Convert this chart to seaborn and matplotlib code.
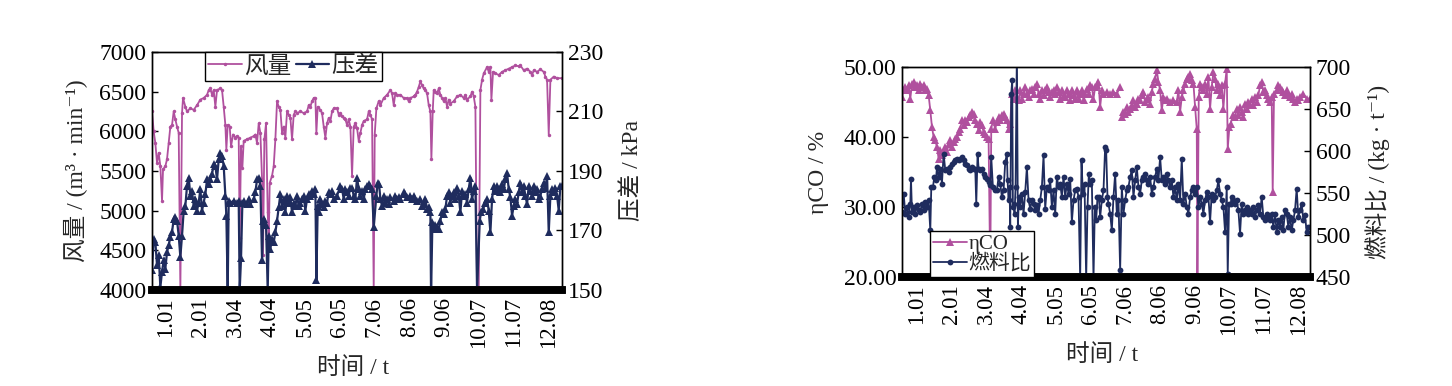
import numpy as np
import pandas as pd
import matplotlib
matplotlib.use("Agg")
import matplotlib.pyplot as plt
import seaborn as sns
from matplotlib.ticker import FormatStrFormatter
from matplotlib.lines import Line2D

sns.set_theme(style="white")
plt.rcParams['font.family'] = ['Liberation Serif', 'Noto Sans CJK SC', 'DejaVu Serif']
plt.rcParams['axes.unicode_minus'] = False

date_labels = ["1.01", "2.01", "3.04", "4.04", "5.05", "6.05",
               "7.06", "8.06", "9.06", "10.07", "11.07", "12.08"]

# ---------------- left panel: 风量 (m3/min) ----------------
wind_t = [0, 5, 10, 15, 20, 25, 30, 33, 40, 45, 50, 55, 60, 65, 70, 75, 80, 85, 90, 93,
          100, 105, 115, 125, 135, 145, 155, 165, 170, 175, 180, 185, 190, 195, 205, 210, 215, 220, 223, 227,
          233, 237, 243, 250, 255, 260, 263, 267, 271, 275, 285, 295, 305, 310, 315, 320, 325, 330, 333, 337,
          342, 347, 350, 353, 360, 365, 370, 375, 380, 385, 390, 395, 400, 405, 410, 415, 420, 425, 430, 435,
          445, 455, 465, 470, 475, 480, 485, 490, 493, 497, 505, 510, 515, 520, 525, 530, 535, 540, 545, 555,
          560, 565, 570, 575, 580, 585, 590, 595, 600, 605, 610, 615, 620, 625, 630, 635, 645, 650, 655, 660,
          665, 668, 673, 680, 685, 695, 705, 715, 720, 725, 730, 735, 745, 755, 765, 770, 775, 785, 790, 795,
          800, 805, 810, 815, 820, 825, 830, 835, 838, 842, 845, 850, 855, 860, 865, 870, 875, 880, 885, 890,
          895, 905, 915, 925, 935, 940, 945, 955, 960, 965, 970, 975, 980, 985, 990, 995, 1005, 1010, 1015, 1018,
          1023, 1030, 1040, 1050, 1060, 1070, 1080, 1090, 1100, 1105, 1115, 1125, 1135, 1140, 1145, 1155, 1165, 1175, 1180, 1185,
          1190, 1195, 1205, 1215, 1230]
wind_v = [6250, 6000, 5850, 5600, 5730, 5560, 5125, 5520, 5560, 5650, 5850, 6060, 6080, 6250, 6150, 6060, 5980, 4000, 6230, 6420,
          6310, 6250, 6290, 6270, 6330, 6400, 6420, 6460, 6520, 6540, 6460, 6520, 6310, 6520, 6540, 6520, 6310, 6080, 5770, 6080,
          6060, 5810, 5960, 5920, 5940, 5920, 4650, 5810, 5540, 5880, 5900, 5920, 5940, 5960, 5850, 6100, 5980, 5400, 4440, 5900,
          6100, 4980, 4600, 5350, 5440, 5560, 5900, 6380, 6310, 6270, 5980, 6060, 5920, 6250, 6210, 6170, 5900, 6210, 6250, 6230,
          6250, 6230, 6250, 6330, 6310, 6380, 6420, 6420, 5980, 6310, 6270, 6230, 6060, 5920, 6100, 6170, 6130, 6250, 6290, 6290,
          6210, 6230, 6190, 6170, 6150, 6080, 6150, 6060, 5440, 6060, 6100, 6040, 5880, 5980, 6080, 6130, 6150, 6250, 6210, 6150,
          4000, 5960, 6290, 6380, 6330, 6420, 6460, 6520, 6480, 6330, 6480, 6460, 6460, 6420, 6420, 6380, 6420, 6440, 6460, 6500,
          6560, 6630, 6580, 6540, 6520, 6480, 6330, 6250, 5650, 6250, 6520, 6500, 6480, 6540, 6460, 6420, 6380, 6420, 6310, 6400,
          6350, 6380, 6440, 6460, 6420, 6460, 6400, 6440, 6500, 6440, 6310, 4000, 4000, 6520, 6650, 6730, 6810, 6750, 6810, 6400,
          6750, 6730, 6710, 6750, 6770, 6790, 6810, 6830, 6820, 6830, 6770, 6790, 6750, 6710, 6770, 6750, 6780, 6750, 6690, 6650,
          5960, 6650, 6690, 6670, 6670]

# ---------------- left panel: 压差 (kPa) ----------------
dp_t = [0, 5, 10, 15, 20, 25, 30, 35, 40, 45, 50, 55, 60, 65, 70, 75, 80, 85, 90, 95,
        100, 105, 110, 115, 120, 125, 130, 135, 140, 145, 150, 155, 160, 165, 170, 175, 180, 185, 190, 195,
        200, 205, 210, 215, 220, 223, 227, 230, 235, 245, 255, 260, 263, 267, 271, 275, 285, 290, 295, 305,
        310, 315, 320, 325, 330, 333, 337, 342, 347, 350, 355, 360, 365, 370, 375, 380, 385, 390, 395, 400,
        405, 410, 415, 420, 425, 430, 435, 440, 445, 450, 455, 460, 465, 470, 475, 480, 485, 490, 493, 497,
        500, 505, 510, 515, 520, 525, 530, 535, 540, 545, 555, 565, 570, 575, 580, 585, 590, 595, 600, 605,
        610, 615, 620, 625, 630, 635, 640, 645, 650, 655, 660, 665, 673, 677, 681, 685, 690, 695, 700, 705,
        710, 715, 725, 730, 735, 740, 745, 755, 760, 765, 775, 780, 785, 790, 795, 805, 810, 815, 820, 825,
        830, 835, 837, 841, 845, 850, 855, 860, 865, 870, 875, 880, 885, 890, 895, 900, 905, 910, 915, 920,
        925, 930, 935, 940, 945, 950, 955, 960, 965, 970, 975, 983, 987, 993, 1000, 1005, 1010, 1015, 1020, 1025,
        1030, 1035, 1040, 1045, 1050, 1055, 1060, 1065, 1070, 1075, 1080, 1085, 1090, 1095, 1100, 1105, 1110, 1115, 1120, 1125,
        1130, 1135, 1140, 1145, 1150, 1155, 1160, 1165, 1170, 1175, 1180, 1185, 1190, 1195, 1200, 1205, 1210, 1215, 1220, 1225,
        1230]
dp_v = [156.7, 167.2, 166.1, 158.3, 161.7, 151.0, 156.1, 160.0, 157.2, 162.8, 165.0, 167.8, 169.4, 173.9, 174.4, 173.3, 168.3, 161.1, 168.3, 176.7,
        178.3, 185.0, 187.8, 181.7, 183.3, 178.3, 180.6, 176.7, 179.4, 183.9, 176.7, 179.4, 182.2, 187.2, 185.6, 187.2, 188.9, 192.2, 191.7, 187.2,
        193.9, 196.1, 195.0, 191.7, 181.7, 175.0, 150.0, 180.0, 179.4, 180.0, 179.4, 180.0, 150.0, 160.6, 179.4, 180.0, 178.9, 180.6, 178.9, 180.6,
        182.8, 187.2, 187.8, 185.0, 160.0, 173.3, 173.9, 171.7, 150.0, 168.3, 163.9, 167.2, 166.1, 169.4, 173.3, 177.8, 182.2, 178.3, 180.6, 176.1,
        181.7, 179.4, 181.1, 176.1, 179.4, 178.3, 181.7, 178.3, 179.4, 180.6, 181.7, 176.7, 180.6, 182.2, 181.7, 183.3, 182.2, 183.9, 153.3, 178.3,
        176.1, 180.6, 178.9, 177.8, 180.0, 179.4, 182.8, 182.2, 183.3, 180.6, 181.7, 185.0, 183.9, 180.6, 183.9, 182.8, 181.7, 184.4, 184.4, 181.7,
        180.6, 187.8, 183.9, 181.7, 183.3, 180.6, 183.9, 185.0, 185.6, 185.0, 183.9, 171.1, 181.7, 186.1, 185.6, 180.6, 178.3, 181.7, 179.4, 180.6,
        178.9, 181.1, 180.0, 181.7, 180.6, 181.1, 180.6, 182.8, 182.2, 181.1, 181.7, 180.6, 181.7, 180.6, 180.0, 180.6, 178.3, 178.9, 180.6, 177.2,
        177.8, 176.1, 148.0, 172.8, 170.6, 171.7, 171.1, 170.6, 173.3, 176.1, 175.6, 177.2, 181.7, 182.8, 179.4, 181.7, 182.8, 180.6, 184.4, 181.7,
        176.1, 183.3, 181.7, 182.2, 179.4, 183.9, 187.8, 180.6, 183.3, 185.0, 150.0, 173.3, 176.1, 177.2, 179.4, 180.6, 176.7, 169.4, 180.6, 185.0,
        183.3, 185.0, 183.9, 182.8, 185.6, 183.9, 187.2, 189.4, 183.9, 181.1, 175.0, 178.3, 180.6, 178.9, 182.8, 186.1, 182.8, 185.0, 181.7, 178.9,
        185.0, 183.3, 181.7, 185.0, 182.8, 183.9, 180.6, 181.7, 183.9, 186.1, 184.4, 188.3, 169.4, 181.7, 183.9, 182.8, 184.4, 181.7, 176.7, 185.0,
        185.0]

# ---------------- right panel: ηCO (%) ----------------
eta_t = [0, 5, 10, 15, 20, 25, 30, 35, 40, 45, 50, 55, 60, 65, 70, 75, 80, 85, 90, 95,
         100, 105, 110, 115, 120, 125, 130, 135, 140, 145, 150, 155, 160, 165, 170, 175, 180, 185, 190, 195,
         200, 205, 210, 215, 220, 225, 230, 235, 240, 245, 250, 255, 260, 265, 268, 273, 280, 285, 290, 295,
         300, 305, 310, 315, 320, 325, 330, 335, 340, 345, 350, 355, 360, 365, 370, 375, 380, 385, 390, 395,
         400, 405, 410, 415, 420, 425, 430, 435, 440, 445, 450, 455, 460, 465, 470, 475, 480, 485, 490, 495,
         500, 505, 510, 515, 520, 525, 530, 535, 540, 545, 550, 555, 560, 565, 570, 575, 580, 585, 590, 595,
         600, 605, 615, 625, 635, 645, 655,
         660, 665, 670, 675, 680, 685, 690, 695, 700, 705, 710, 715, 720, 725, 730, 735, 740, 745, 750, 755,
         760, 765, 770, 775, 780, 785, 790, 795, 805, 815, 825, 830, 835, 840, 845, 850, 855, 860, 865, 870,
         875, 880, 885, 887, 891, 895, 900, 905, 910, 915, 920, 925, 930, 935, 940, 945, 950, 955, 960, 965,
         970, 975, 978, 983, 987, 993, 1000, 1005, 1010, 1015, 1020, 1025, 1030, 1035, 1040, 1045, 1050, 1055, 1060, 1065,
         1070, 1075, 1080, 1085, 1090, 1095, 1100, 1105, 1110, 1113, 1117, 1125, 1130, 1135, 1140, 1145, 1150, 1155, 1160, 1165,
         1170, 1175, 1180, 1185, 1190, 1195, 1205, 1215, 1225]
eta_v = [45.71, 46.67, 47.14, 46.67, 47.38, 45.48, 47.62, 47.86, 47.14, 47.38, 46.67, 47.62, 47.14, 47.38, 46.67, 46.90, 45.95, 43.81, 41.43, 40.00,
         39.52, 38.57, 36.90, 38.10, 37.38, 37.86, 38.57, 37.86, 39.05, 39.52, 38.57, 39.29, 39.76, 40.00, 40.71, 41.19, 42.38, 41.67, 42.38, 42.14,
         42.86, 43.10, 43.57, 43.33, 42.38, 41.90, 40.95, 42.14, 41.67, 40.71, 40.48, 40.00, 39.76, 20.30, 41.19, 42.38, 41.19, 42.14, 42.86, 42.38,
         43.10, 43.33, 42.86, 42.38, 41.19, 41.90, 46.19, 45.48, 46.67, 45.71, 45.24, 46.67, 45.48, 46.19, 47.14, 46.19, 45.71, 46.67, 46.90, 46.19,
         47.14, 47.62, 46.19, 45.48, 46.67, 45.95, 46.67, 47.14, 46.43, 45.71, 46.43, 46.67, 46.19, 47.14, 46.43, 45.48, 46.67, 45.95, 45.71, 46.67,
         46.19, 45.24, 46.67, 45.95, 45.48, 46.67, 45.48, 46.19, 46.67, 45.24, 46.19, 46.90, 46.19, 47.38, 47.14, 45.48, 47.14, 47.38, 47.86, 44.29,
         46.67, 46.19, 46.43, 46.19, 46.43, 46.19, 47.14,
         42.86, 43.57, 43.33, 44.29, 43.57, 44.05, 44.52, 45.24, 44.29, 44.76, 45.48, 45.24, 45.95, 46.43, 45.00, 45.48, 45.71, 44.76, 46.43, 47.62,
         48.33, 49.52, 47.86, 46.67, 43.81, 45.71, 45.24, 45.48, 45.00, 45.24, 45.00, 46.67, 43.57, 45.71, 46.67, 47.62, 48.33, 48.57, 49.05, 48.10,
         47.62, 44.29, 41.19, 20.30, 45.71, 47.62, 47.14, 46.67, 47.62, 46.19, 48.57, 44.05, 47.14, 49.29, 48.33, 46.67, 47.62, 45.95, 47.38, 44.05,
         47.62, 49.76, 38.33, 41.43, 41.90, 43.10, 42.86, 44.05, 43.10, 44.29, 43.57, 42.86, 44.76, 44.05, 45.00, 44.52, 45.48, 44.52, 45.71, 45.00,
         45.95, 47.38, 47.86, 46.43, 46.67, 45.95, 45.48, 45.00, 45.71, 32.14, 46.19, 46.67, 47.38, 47.14, 46.67, 46.43, 45.95, 46.67, 46.19, 45.71,
         46.19, 45.48, 45.00, 45.48, 45.24, 45.71, 46.19, 45.48, 45.48]
# the ηCO record has a missing stretch between these two segments
eta_seg = [0] * 127 + [1] * (len(eta_t) - 127)

# ---------------- right panel: 燃料比 (kg/t) ----------------
fr_t = [0, 5, 10, 15, 20, 25, 27, 30, 35, 40, 45, 50, 55, 60, 65, 70, 75, 80, 85, 88,
        93, 97, 102, 105, 110, 115, 120, 125, 130, 135, 140, 145, 150, 155, 160, 165, 170, 175, 180, 185,
        190, 195, 200, 205, 210, 215, 220, 223, 227, 230, 235, 240, 245, 250, 255, 260, 265, 268, 273, 280,
        285, 290, 295, 300, 305, 310, 315, 317, 320, 323, 325, 328, 331, 333, 335, 338, 341, 345, 348, 351,
        355, 360, 365, 370, 375, 380, 385, 390, 395, 400, 405, 410, 415, 420, 425, 430, 435, 440, 445, 450,
        455, 460, 465, 470, 475, 480, 485, 490, 495, 500, 505, 510, 515, 520, 525, 530, 535, 539, 543, 548,
        553, 557, 561, 565, 570, 575, 579, 583, 587, 591, 595, 600, 605, 610, 613, 617, 620, 625, 630, 635,
        640, 645, 650, 655, 660, 665, 670, 675, 680, 685, 690, 695, 700, 705, 710, 715, 720, 725, 730, 735,
        740, 745, 750, 755, 760, 765, 770, 775, 780, 785, 790, 795, 800, 805, 810, 815, 820, 825, 830, 835,
        840, 845, 850, 855, 860, 865, 870, 875, 880, 885, 890, 895, 900, 905, 910, 915, 920, 925, 930, 935,
        940, 945, 950, 955, 960, 965, 970, 975, 978, 982, 987, 990, 995, 1000, 1005, 1010, 1015, 1020, 1025, 1030,
        1035, 1040, 1045, 1050, 1055, 1060, 1065, 1070, 1075, 1080, 1085, 1090, 1095, 1100, 1105, 1110, 1115, 1120, 1125, 1130,
        1135, 1140, 1145, 1150, 1155, 1160, 1165, 1170, 1175, 1180, 1185, 1190, 1195, 1200, 1205, 1210, 1215, 1220, 1225]
fr_v = [527.4, 549.2, 525.4, 533.3, 521.4, 537.3, 567.1, 527.4, 533.3, 525.4, 535.3, 529.4, 527.4, 537.3, 529.4, 539.3, 533.3, 541.3, 505.6, 557.1,
        557.1, 569.0, 565.1, 581.0, 569.0, 579.0, 561.1, 596.8, 577.0, 579.0, 575.0, 581.0, 584.9, 586.9, 588.9, 590.9, 588.9, 590.9, 592.9, 588.9,
        584.9, 582.9, 579.0, 577.0, 581.0, 579.0, 579.0, 537.3, 596.8, 579.0, 577.0, 579.0, 573.0, 569.0, 567.1, 563.1, 559.1, 592.9, 557.1, 553.2,
        553.2, 569.0, 561.1, 545.2, 553.2, 586.9, 596.8, 565.1, 541.3, 557.1, 509.5, 668.3, 684.1, 533.3, 537.3, 525.4, 557.1, 720.0, 509.5, 545.2,
        533.3, 549.2, 525.4, 551.2, 581.0, 541.3, 531.3, 541.3, 537.3, 529.4, 535.3, 525.4, 541.3, 557.1, 594.8, 531.3, 557.1, 553.2, 565.1, 533.3,
        553.2, 525.4, 569.0, 557.1, 561.1, 545.2, 569.0, 545.2, 561.1, 549.2, 567.1, 515.5, 541.3, 553.2, 555.2, 545.2, 448.0, 588.9, 549.2, 561.1,
        448.0, 533.3, 573.0, 561.1, 565.1, 448.0, 533.3, 517.5, 545.2, 545.2, 521.4, 541.3, 553.2, 604.8, 600.8, 545.2, 537.3, 525.4, 505.6, 545.2,
        573.0, 525.4, 541.3, 458.0, 557.1, 525.4, 541.3, 553.2, 557.1, 569.0, 577.0, 545.2, 565.1, 581.0, 557.1, 549.2, 565.1, 569.0, 573.0, 565.1,
        561.1, 569.0, 549.2, 557.1, 569.0, 579.0, 565.1, 592.9, 565.1, 569.0, 561.1, 573.0, 565.1, 557.1, 565.1, 545.2, 557.1, 541.3, 561.1, 541.3,
        590.9, 537.3, 549.2, 533.3, 525.4, 545.2, 553.2, 557.1, 549.2, 557.1, 533.3, 545.2, 537.3, 525.4, 541.3, 551.2, 545.2, 515.5, 549.2, 541.3,
        545.2, 553.2, 565.1, 549.2, 541.3, 533.3, 503.6, 557.1, 454.0, 537.3, 537.3, 545.2, 541.3, 537.3, 541.3, 529.4, 501.6, 537.3, 525.4, 529.4,
        533.3, 525.4, 529.4, 525.4, 533.3, 521.4, 529.4, 535.3, 525.4, 545.2, 521.4, 517.5, 525.4, 521.4, 517.5, 525.4, 509.5, 525.4, 503.6, 517.5,
        509.5, 521.4, 505.6, 529.4, 525.4, 509.5, 521.4, 505.6, 517.5, 529.4, 555.2, 521.4, 529.4, 537.3, 517.5, 523.4, 503.6, 509.5, 509.5]

MAGENTA = "#B0509E"
NAVY = "#1F2C5E"

fig = plt.figure(figsize=(14.52, 3.86), dpi=100)
fig.patch.set_facecolor("white")

ax1 = fig.add_axes([0.1047, 0.2487, 0.2824, 0.6166])
ax1b = ax1.twinx()
ax2 = fig.add_axes([0.6212, 0.2824, 0.281, 0.544])
ax2b = ax2.twinx()

# --- left panel ---
sns.lineplot(x=wind_t, y=wind_v, ax=ax1, color=MAGENTA, linewidth=1.3, marker="o",
             markersize=2.5, markeredgewidth=0, estimator=None, legend=False)
sns.lineplot(x=dp_t, y=dp_v, ax=ax1b, color=NAVY, linewidth=1.6, marker="^",
             markersize=5.5, markeredgewidth=0, estimator=None, legend=False)

# --- right panel ---
eta_df = pd.DataFrame({"t": eta_t, "v": eta_v, "seg": eta_seg})
sns.lineplot(data=eta_df, x="t", y="v", units="seg", ax=ax2, color=MAGENTA, linewidth=1.3,
             marker="^", markersize=5.5, markeredgewidth=0, estimator=None, legend=False)
sns.lineplot(x=fr_t, y=fr_v, ax=ax2b, color=NAVY, linewidth=1.3, marker="o",
             markersize=4.2, markeredgewidth=0, estimator=None, legend=False)

FS = 17
ax1.set_xlim(0, 1230)
ax1.set_ylim(4000, 7000)
ax1b.set_ylim(150, 230)
ax1.set_yticks(np.arange(4000, 7001, 500))
ax1b.set_yticks(np.arange(150, 231, 20))
ax1.set_xticks(np.linspace(40, 1190, len(date_labels)))
ax1.set_xticklabels(date_labels, rotation=90)

ax2.set_xlim(0, 1225)
ax2.set_ylim(20, 50)
ax2b.set_ylim(450, 700)
ax2.set_yticks([20, 30, 40, 50])
ax2.yaxis.set_major_formatter(FormatStrFormatter("%.2f"))
ax2b.set_yticks(np.arange(450, 701, 50))
ax2.set_xticks(np.linspace(45, 1190, len(date_labels)))
ax2.set_xticklabels(date_labels, rotation=90)

for a in (ax1, ax1b, ax2, ax2b):
    a.set_xlabel("")
    a.set_ylabel("")
    for s in a.spines.values():
        s.set_color("black")
        s.set_linewidth(1.0)
    a.spines["bottom"].set_linewidth(5.5)
    a.tick_params(axis="y", direction="in", length=4, width=1, colors="black",
                  labelsize=FS, pad=4)
    a.tick_params(axis="x", length=0, labelsize=FS - 0.5, pad=5, colors="black")

ax1.set_ylabel("风量 / (m³ · min⁻¹)", fontsize=FS)
ax1.yaxis.set_label_coords(-0.155, 0.5)
ax1b.set_ylabel("压差 / kPa", fontsize=FS)
ax1b.yaxis.set_label_coords(1.145, 0.5)
ax1.set_xlabel("时间 / t", fontsize=FS)
ax1.xaxis.set_label_coords(0.49, -0.28)

ax2.set_ylabel("ηCO / %", fontsize=FS)
ax2.yaxis.set_label_coords(-0.18, 0.5)
ax2b.set_ylabel("燃料比 / (kg · t⁻¹)", fontsize=FS)
ax2b.yaxis.set_label_coords(1.135, 0.5)
ax2.set_xlabel("时间 / t", fontsize=FS)
ax2.xaxis.set_label_coords(0.49, -0.32)

# legends
h_wind = Line2D([], [], color=MAGENTA, linewidth=1.3, marker="o", markersize=2.5, markeredgewidth=0)
h_dp = Line2D([], [], color=NAVY, linewidth=1.6, marker="^", markersize=5.5, markeredgewidth=0)
leg1 = ax1b.legend([h_wind, h_dp], ["风量", "压差"], ncol=2, loc="upper left",
                   bbox_to_anchor=(0.129, 1.0), borderaxespad=0, fontsize=FS,
                   frameon=True, fancybox=False, edgecolor="black", framealpha=1,
                   handlelength=1.4, handletextpad=0.1, columnspacing=0.2,
                   borderpad=0.15)
leg1.get_frame().set_linewidth(1.0)

h_eta = Line2D([], [], color=MAGENTA, linewidth=1.3, marker="^", markersize=5.5, markeredgewidth=0)
h_fr = Line2D([], [], color=NAVY, linewidth=1.3, marker="o", markersize=4.2, markeredgewidth=0)
leg2 = ax2b.legend([h_eta, h_fr], ["ηCO", "燃料比"], loc="lower left",
                   bbox_to_anchor=(0.069, 0.0), borderaxespad=0, fontsize=15,
                   frameon=True, fancybox=False, edgecolor="black", framealpha=1,
                   handlelength=1.6, handletextpad=0.1, labelspacing=0.0,
                   borderpad=0.15)
leg2.get_frame().set_linewidth(1.0)

fig.savefig("out.png", dpi=100, facecolor="white")
